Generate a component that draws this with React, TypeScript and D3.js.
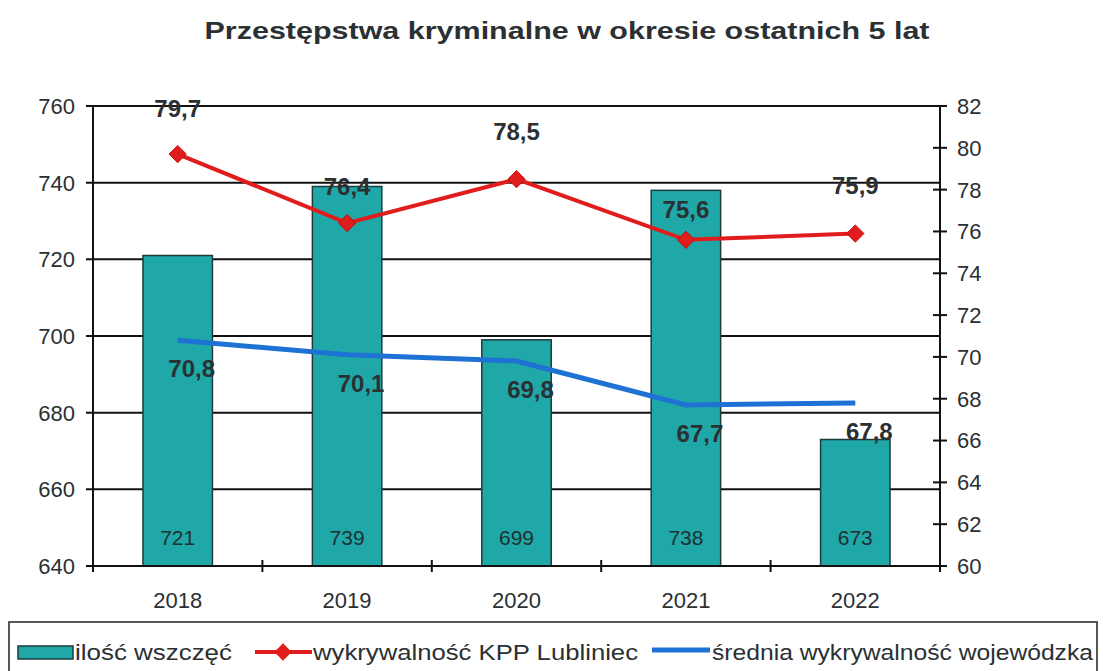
import React from 'react';
import * as d3 from 'd3';

const years = ['2018', '2019', '2020', '2021', '2022'];
const cases = [721, 739, 699, 738, 673];
const detectionKpp = [79.7, 76.4, 78.5, 75.6, 75.9];
const detectionAvg = [70.8, 70.1, 69.8, 67.7, 67.8];
const leftTicks = [640, 660, 680, 700, 720, 740, 760];
const rightTicks = [60, 62, 64, 66, 68, 70, 72, 74, 76, 78, 80, 82];

// label nudges for red series (Excel had them hand-placed)
const kppLabelDy = [-37, -28, -39, -22, -40];

const W = 1103, H = 671;
const margin = {top: 106, left: 93, right: 163, bottom: 105};
const width = W - margin.left - margin.right;
const height = H - margin.top - margin.bottom;

const FONT = '"Liberation Sans", Arial, sans-serif';
const TEXT = '#2b3033';
const BAR = '#20a8a8';
const RED = '#e01c1c';
const BLUE = '#1e72d4';

const fmt = (v: number) => v.toFixed(1).replace('.', ',');

export default function App() {
  const x = d3.scaleBand().domain(years).range([0, width]).paddingInner(0.59).paddingOuter(0.295);
  const xc = (y: string) => (x(y) as number) + x.bandwidth() / 2;
  const step = width / years.length;
  const yL = d3.scaleLinear().domain([640, 760]).range([height, 0]);
  const yR = d3.scaleLinear().domain([60, 82]).range([height, 0]);

  const line = d3.line<number>().x((d, i) => xc(years[i]));
  const redPath = line.y(d => yR(d))(detectionKpp) as string;
  const bluePath = d3.line<number>().x((d, i) => xc(years[i])).y(d => yR(d))(detectionAvg) as string;

  const diamond = d3.symbol().type(d3.symbolDiamond2).size(190)() as string;

  return (
    <svg width={W} height={H} style={{position: 'absolute', left: 0, top: 0, background: '#fff'}} fontFamily={FONT}>
      <text x={567} y={39} textAnchor="middle" fontSize={24} fontWeight="bold" fill={TEXT}
        textLength={725} lengthAdjust="spacingAndGlyphs">Przestępstwa kryminalne w okresie ostatnich 5 lat</text>

      <g transform={`translate(${margin.left},${margin.top})`}>
        {leftTicks.map(t => (
          <g key={t}>
            <line x1={-7} x2={width} y1={yL(t)} y2={yL(t)} stroke="#111" strokeWidth={2} />
            <text x={-18} y={yL(t)} dy="0.36em" textAnchor="end" fontSize={22} fill={TEXT}>{t}</text>
          </g>
        ))}

        {years.map((yr, i) => (
          <rect key={yr} x={x(yr)} y={yL(cases[i])} width={x.bandwidth()} height={height - yL(cases[i])}
            fill={BAR} stroke="#1d3b3b" strokeWidth={1.5} />
        ))}
        {years.map((yr, i) => (
          <text key={yr} x={xc(yr)} y={height - 21} textAnchor="middle" fontSize={21} fill="#1f3030">{cases[i]}</text>
        ))}

        {/* axes */}
        <line x1={0} x2={0} y1={0} y2={height} stroke="#111" strokeWidth={2} />
        <line x1={width} x2={width} y1={0} y2={height} stroke="#111" strokeWidth={2} />
        <line x1={0} x2={width} y1={height} y2={height} stroke="#111" strokeWidth={2} />
        {d3.range(years.length + 1).map(k => (
          <line key={k} x1={k * step} x2={k * step} y1={height - 6} y2={height + 6} stroke="#111" strokeWidth={2} />
        ))}
        {years.map(yr => (
          <text key={yr} x={xc(yr)} y={height + 42} textAnchor="middle" fontSize={22} fill={TEXT}>{yr}</text>
        ))}
        {rightTicks.map(t => (
          <g key={t}>
            <line x1={width - 7} x2={width + 7} y1={yR(t)} y2={yR(t)} stroke="#111" strokeWidth={2} />
            <text x={width + 17} y={yR(t)} dy="0.36em" fontSize={22} fill={TEXT}>{t}</text>
          </g>
        ))}

        {/* lines */}
        <path d={bluePath} fill="none" stroke={BLUE} strokeWidth={5} />
        <path d={redPath} fill="none" stroke={RED} strokeWidth={4} />
        {detectionKpp.map((v, i) => (
          <path key={i} d={diamond} transform={`translate(${xc(years[i])},${yR(v)})`} fill={RED} stroke="#c01010" strokeWidth={1} />
        ))}

        {detectionKpp.map((v, i) => (
          <text key={i} x={xc(years[i])} y={yR(v) + kppLabelDy[i]} textAnchor="middle" fontSize={24}
            fontWeight="bold" fill={TEXT}>{fmt(v)}</text>
        ))}
        {detectionAvg.map((v, i) => (
          <text key={i} x={xc(years[i]) + 14} y={yR(v) + 37} textAnchor="middle" fontSize={24}
            fontWeight="bold" fill={TEXT}>{fmt(v)}</text>
        ))}
      </g>

      {/* legend */}
      <rect x={9} y={622} width={1088} height={60} fill="none" stroke="#222" strokeWidth={1.5} />
      <rect x={18} y={646} width={55} height={13} fill={BAR} stroke="#1d3b3b" strokeWidth={1.5} />
      <text x={75} y={660} fontSize={22} fill={TEXT} textLength={157} lengthAdjust="spacingAndGlyphs">ilość wszczęć</text>
      <line x1={255} x2={312} y1={652} y2={652} stroke={RED} strokeWidth={4} />
      <path d={diamond} transform="translate(283,652)" fill={RED} />
      <text x={313} y={660} fontSize={22} fill={TEXT} textLength={325} lengthAdjust="spacingAndGlyphs">wykrywalność KPP Lubliniec</text>
      <line x1={652} x2={710} y1={650} y2={650} stroke={BLUE} strokeWidth={5} />
      <text x={712} y={660} fontSize={22} fill={TEXT} textLength={381} lengthAdjust="spacingAndGlyphs">średnia wykrywalność wojewódzka</text>
    </svg>
  );
}
